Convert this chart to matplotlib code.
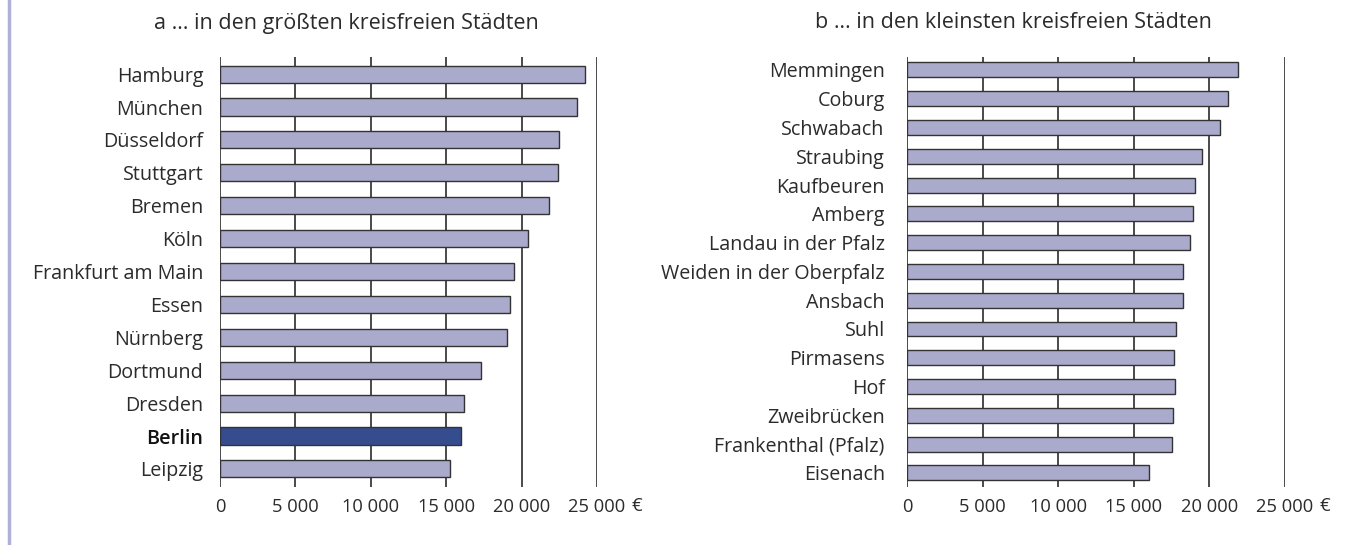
import matplotlib.pyplot as plt
from matplotlib.lines import Line2D

plt.rcParams["font.family"] = ["Open Sans", "DejaVu Sans"]

big_cities = ["Hamburg", "München", "Düsseldorf", "Stuttgart", "Bremen", "Köln",
              "Frankfurt am Main", "Essen", "Nürnberg", "Dortmund", "Dresden",
              "Berlin", "Leipzig"]
big_values = [24200, 23700, 22500, 22400, 21800, 20400, 19500, 19200, 19050,
              17300, 16150, 15950, 15250]

small_cities = ["Memmingen", "Coburg", "Schwabach", "Straubing", "Kaufbeuren",
                "Amberg", "Landau in der Pfalz", "Weiden in der Oberpfalz",
                "Ansbach", "Suhl", "Pirmasens", "Hof", "Zweibrücken",
                "Frankenthal (Pfalz)", "Eisenach"]
small_values = [21900, 21250, 20700, 19500, 19050, 18900, 18700, 18250, 18250,
                17800, 17650, 17700, 17600, 17500, 16000]

x_ticks = [0, 5000, 10000, 15000, 20000, 25000]
x_labels = ["0", "5 000", "10 000", "15 000", "20 000", "25 000"]

highlight = "Berlin"
bar_light = "#aaaacc"
bar_dark = "#354c8f"
text_col = "#2b2b2b"
line_col = "#3c3c3c"

W, H = 1351, 545
fig = plt.figure(figsize=(W / 100, H / 100), dpi=100)


def draw_panel(rect, cities, values, title, title_x, pad_top, pad_bottom, label_pad):
    ax = fig.add_axes(rect)
    pos = list(range(len(cities)))
    colors = [bar_dark if c == highlight else bar_light for c in cities]
    ax.barh(pos, values, height=0.52, color=colors, edgecolor="#333333",
            linewidth=1.0, zorder=3)
    ax.set_xlim(0, 25000)
    ax.set_ylim(len(cities) - 1 + pad_bottom, -pad_top)
    ax.set_yticks(pos)
    ax.set_yticklabels(cities, fontsize=14.2, color=text_col)
    for lab in ax.get_yticklabels():
        if lab.get_text() == highlight:
            lab.set_fontweight("semibold")
            lab.set_color("#111111")
    ax.set_xticks(x_ticks)
    ax.set_xticklabels(x_labels, fontsize=13.2, color=text_col)
    ax.tick_params(axis="both", length=0)
    ax.tick_params(axis="y", pad=label_pad)
    ax.tick_params(axis="x", pad=8)
    ax.grid(axis="x", color=line_col, linewidth=1.3, zorder=1)
    ax.grid(axis="y", visible=False)
    for side in ["top", "right", "bottom", "left"]:
        ax.spines[side].set_visible(False)
    x0, y0, w, h = rect
    fig.text(title_x / W, 1 - 23 / H, title, fontsize=15.5, color=text_col,
             ha="center", va="center")
    fig.text(x0 + w + 40 / W, 1 - 506 / H, "€", fontsize=13.5, color=text_col,
             ha="center", va="center")
    return ax


top = 57
bottom = 487
ax_h = (bottom - top) / H
ax_y = 1 - bottom / H

draw_panel([220 / W, ax_y, (597 - 220) / W, ax_h], big_cities, big_values,
           "a … in den größten kreisfreien Städten", 346, 0.52, 0.55, 12)
draw_panel([907 / W, ax_y, (1285 - 907) / W, ax_h], small_cities, small_values,
           "b … in den kleinsten kreisfreien Städten", 1013, 0.45, 0.49, 16)

# lavender frame line at the left edge
fig.add_artist(Line2D([9 / W, 9 / W], [0.004, 1], color="#b0b0d6",
                      linewidth=2.5, transform=fig.transFigure))

fig.savefig("out.png", dpi=100)
